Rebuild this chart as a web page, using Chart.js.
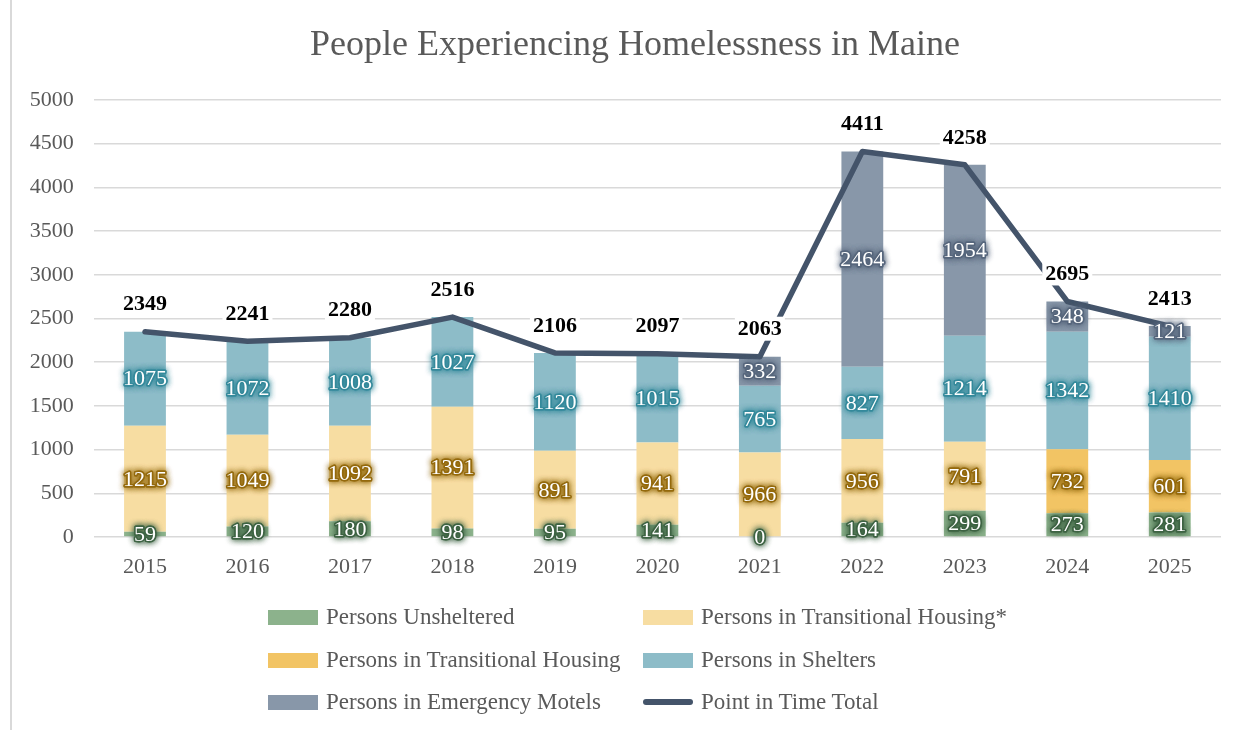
<!DOCTYPE html>
<html>
<head>
<meta charset="utf-8">
<script src="https://cdn.jsdelivr.net/npm/chart.js@4.4.1/dist/chart.umd.min.js"></script>
<style>
  html, body { margin: 0; padding: 0; background: #fff; }
  #wrap { position: relative; width: 1254px; height: 730px; overflow: hidden; }
  #frame { position: absolute; left: 10px; top: 0; width: 2px; height: 730px; background: #d9d9d9; }
  canvas { position: absolute; left: 0; top: 0; }
  #legend { position: absolute; left: 0; top: 0; width: 1254px; height: 730px; pointer-events: none;
    font-family: "Liberation Serif", "Times New Roman", serif; font-size: 23px; color: #595959; }
  .item { position: absolute; display: flex; align-items: center; height: 26px; white-space: nowrap; }
  .sw { display: inline-block; width: 50px; height: 15px; margin-right: 8px; }
  .sw.line { height: 6px; border-radius: 3px; }
</style>
</head>
<body>
<div id="wrap">
  <canvas id="c" width="1254" height="730"></canvas>
  <div id="frame"></div>
  <div id="legend"></div>
</div>
<script>
const TITLE = 'People Experiencing Homelessness in Maine';
const years = ['2015','2016','2017','2018','2019','2020','2021','2022','2023','2024','2025'];
const unsheltered     = [59, 120, 180, 98, 95, 141, 0, 164, 299, 273, 281];
const transitionalOld = [1215, 1049, 1092, 1391, 891, 941, 966, 956, 791, null, null];
const transitionalNew = [null, null, null, null, null, null, null, null, null, 732, 601];
const shelters        = [1075, 1072, 1008, 1027, 1120, 1015, 765, 827, 1214, 1342, 1410];
const motels          = [null, null, null, null, null, null, 332, 2464, 1954, 348, 121];
const totals          = [2349, 2241, 2280, 2516, 2106, 2097, 2063, 4411, 4258, 2695, 2413];
const seriesNames = ['Persons Unsheltered', 'Persons in Transitional Housing*', 'Persons in Transitional Housing',
                     'Persons in Shelters', 'Persons in Emergency Motels', 'Point in Time Total'];

const FONT = '"Liberation Serif", "Times New Roman", serif';
const barColors = ['#8cb28c', '#f7dda2', '#f2c464', '#8dbcc8', '#8897a9'];
const glowColors = ['#3d6343', '#94690c', '#94690c', '#348a9b', '#56667c'];
const lineColor = '#44546a';

const barSeries = [unsheltered, transitionalOld, transitionalNew, shelters, motels];
const datasets = barSeries.map((d, i) => ({
  type: 'bar', label: seriesNames[i], data: d, backgroundColor: barColors[i],
  stack: 'people', order: 1, categoryPercentage: 0.8, barPercentage: 0.51, glow: glowColors[i]
}));
datasets.push({
  type: 'line', label: seriesNames[5], data: totals, borderColor: lineColor, borderWidth: 5.5,
  pointRadius: 0, tension: 0, stack: 'total', order: 0, borderJoinStyle: 'round', borderCapStyle: 'round'
});

function glowText(ctx, t, x, y, glow) {
  ctx.save();
  ctx.shadowColor = glow;
  ctx.shadowBlur = 6;
  ctx.lineJoin = 'round';
  ctx.strokeStyle = glow;
  ctx.lineWidth = 3;
  ctx.globalAlpha = 0.9;
  ctx.strokeText(t, x, y);
  ctx.strokeText(t, x, y);
  ctx.restore();
  ctx.fillStyle = '#ffffff';
  ctx.fillText(t, x, y);
}

const labelPlugin = {
  id: 'labels',
  afterDatasetsDraw(chart) {
    const ctx = chart.ctx;
    ctx.save();
    ctx.textAlign = 'center';
    ctx.textBaseline = 'middle';
    ctx.font = '22px ' + FONT;
    chart.data.datasets.forEach((ds, i) => {
      if (ds.type !== 'bar') return;
      const meta = chart.getDatasetMeta(i);
      meta.data.forEach((bar, j) => {
        const v = ds.data[j];
        if (v === null || v === undefined) return;
        const p = bar.getProps(['x', 'y', 'base'], true);
        glowText(ctx, String(v), p.x, (p.y + p.base) / 2 + 1, ds.glow);
      });
    });
    const li = chart.data.datasets.findIndex(d => d.type === 'line');
    const lmeta = chart.getDatasetMeta(li);
    ctx.font = 'bold 22px ' + FONT;
    lmeta.data.forEach((pt, j) => {
      const t = String(totals[j]);
      const y = pt.y - 28;
      const w = ctx.measureText(t).width;
      ctx.fillStyle = '#ffffff';
      ctx.fillRect(pt.x - w / 2 - 3, y - 12, w + 6, 24);
      ctx.fillStyle = '#000000';
      ctx.fillText(t, pt.x, y + 1);
    });
    ctx.restore();
  }
};

const titlePlugin = {
  id: 'customTitle',
  afterDraw(chart) {
    const ctx = chart.ctx;
    ctx.save();
    ctx.font = '36px ' + FONT;
    ctx.fillStyle = '#595959';
    ctx.textAlign = 'center';
    ctx.textBaseline = 'middle';
    ctx.fillText(TITLE, 635, 46);
    ctx.restore();
  }
};

const chart = new Chart(document.getElementById('c'), {
  data: { labels: years, datasets },
  options: {
    responsive: false,
    animation: false,
    layout: { padding: { left: 12, right: 33, top: 100, bottom: 153 } },
    plugins: { legend: { display: false }, title: { display: false }, tooltip: { enabled: false } },
    scales: {
      x: {
        stacked: true,
        grid: { display: false, drawTicks: false },
        border: { display: false },
        ticks: { color: '#595959', font: { family: FONT, size: 22 }, padding: 17 },
        afterFit(s) { s.height = 40; }
      },
      y: {
        stacked: true, min: 0, max: 5000,
        grid: { color: '#d9d9d9', lineWidth: 1.5, drawTicks: false },
        border: { display: false },
        ticks: { stepSize: 500, color: '#595959', font: { family: FONT, size: 22 }, padding: 20,
                 callback: (v) => String(v) },
        afterFit(s) { s.width = 81.75; }
      }
    }
  },
  plugins: [labelPlugin, titlePlugin]
});

// HTML legend built from dataset names/colours
const legendEl = document.getElementById('legend');
const cols = [268, 643];
const rows = [617, 660, 702];
chart.data.datasets.forEach((ds, i) => {
  const item = document.createElement('div');
  item.className = 'item';
  item.style.left = cols[i % 2] + 'px';
  item.style.top = (rows[Math.floor(i / 2)] - 13) + 'px';
  const sw = document.createElement('span');
  sw.className = 'sw' + (ds.type === 'line' ? ' line' : '');
  sw.style.background = ds.type === 'line' ? ds.borderColor : ds.backgroundColor;
  const tx = document.createElement('span');
  tx.textContent = ds.label;
  item.appendChild(sw);
  item.appendChild(tx);
  legendEl.appendChild(item);
});
</script>
</body>
</html>
